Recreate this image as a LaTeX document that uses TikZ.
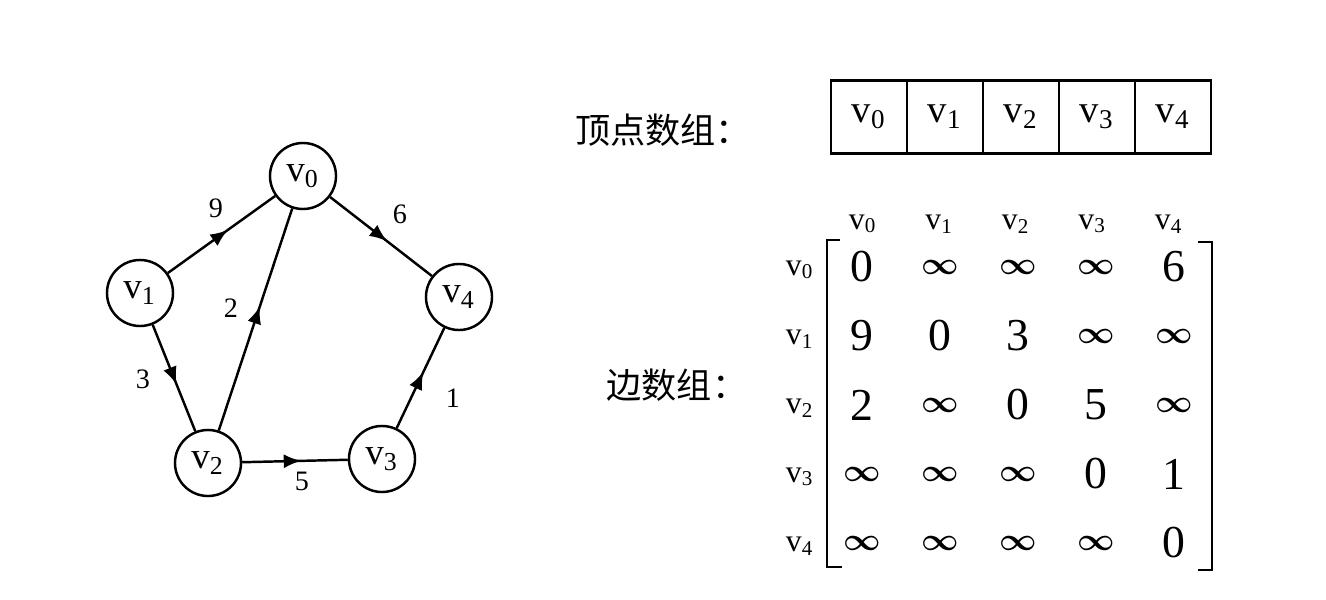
\documentclass[tikz,border=0pt]{standalone}
\usepackage{fontspec}
\setmainfont{Liberation Serif}
\newfontfamily\cjk{Noto Sans CJK SC}
\usetikzlibrary{arrows.meta, decorations.markings}
\newcommand{\vx}[1]{v\textsubscript{#1}}
\newcommand{\infsym}{{\fontsize{9.5}{10}\selectfont\boldmath$\infty$}}

\begin{document}
\begin{tikzpicture}[x=0.01cm, y=-0.01cm,
	vert/.style={draw, circle, line width=0.7pt, minimum size=0.66cm, inner sep=0pt, font=\fontsize{10.5}{10.5}\selectfont},
	link/.style={line width=0.7pt, postaction={decorate}, decoration={markings, mark=at position 0.56 with {\arrow{Latex[length=5pt,width=4pt]}}}},
	wt/.style={font=\fontsize{8}{8}\selectfont},
	cell/.style={draw, line width=0.7pt, minimum width=0.76cm, minimum height=0.73cm, inner sep=0pt, font=\fontsize{11}{11}\selectfont},
	ent/.style={font=\fontsize{13}{13}\selectfont},
	hd/.style={font=\fontsize{9}{9}\selectfont},
	cn/.style={font=\cjk\fontsize{10}{10}\selectfont}]
					\useasboundingbox (0,0) rectangle (1326,600);
					% graph
					\node[vert] (v0) at (303,176) {\vx0};
					\node[vert] (v1) at (140,293) {\vx1};
					\node[vert] (v2) at (208,463) {\vx2};
					\node[vert] (v3) at (382,459) {\vx3};
					\node[vert] (v4) at (459,297) {\vx4};
					\draw[link] (v1) -- (v0);
					\draw[link] (v0) -- (v4);
					\draw[link] (v2) -- (v0);
					\draw[link] (v1) -- (v2);
					\draw[link] (v2) -- (v3);
					\draw[link] (v3) -- (v4);
					\node[wt] (w9) at (216,208) {9};
					\node[wt] (w6) at (400,214) {6};
					\node[wt] (w2) at (231,308) {2};
					\node[wt] (w3) at (143,379) {3};
					\node[wt] (w5) at (302,481) {5};
					\node[wt] (w1) at (453,398) {1};
					% vertex array
					\node[cn] (lv) at (663,130) {顶点数组：};
					\foreach \i in {0,...,4}
						\node[cell] (a\i) at (869+76*\i,117) {\vx{\i}};
					% edge array
					\node[cn] (le) at (677,385) {边数组：};
					\foreach \i in {0,...,4}
						\node[hd] (c\i) at (863+76.5*\i,224) {\vx{\i}};
					\foreach \i in {0,...,4}
						\node[hd] (r\i) at (800,270+69*\i) {\vx{\i}};
					\foreach \ents [count=\j from 0] in {{0,\infsym,\infsym,\infsym,6},{9,0,3,\infsym,\infsym},{2,\infsym,0,5,\infsym},{\infsym,\infsym,\infsym,0,1},{\infsym,\infsym,\infsym,\infsym,0}}
						\foreach \e [count=\k from 0] in \ents
							\node[ent] (m\j\k) at (862+78*\k,267+69*\j) {\e};
					\draw[line width=0.7pt] (840,240) -- (827,240) -- (827,567) -- (842,567);
					\draw[line width=0.7pt] (1198,242) -- (1212,242) -- (1212,570) -- (1198,570);
				\end{tikzpicture}
\end{document}
